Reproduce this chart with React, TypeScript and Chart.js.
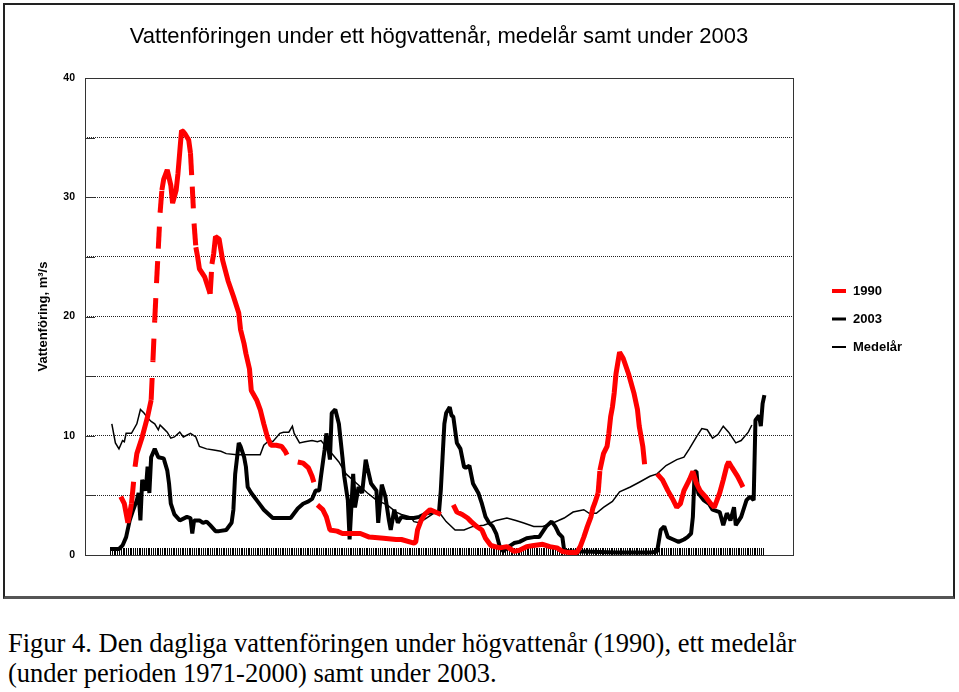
import React, { useEffect, useRef } from 'react';
import { Chart, registerables } from 'chart.js';

Chart.register(...registerables);

// ---------- data (day of the year, flow in m³/s) ----------
const SERIES_LABELS = ['1990', '2003', 'Medelår'];

const DAYS_1990 = [7, 9, 10, 11, 13, 15, 16, 19, 22, 24, 25, 26, 27, 28, 29, 30, 31, 33, 35, 36, 38, 39, 40, 41, 42, 43, 45, 46, 47, 48, 49, 50, 51, 54, 57, 58, 59, 60, 62, 64, 67, 70, 73, 74, 76, 77, 79, 80, 83, 85, 87, 89, 91, 94, 97, 99, 100, 103, 106, 109, 112, 114, 115, 116, 117, 120, 122, 124, 128, 131, 135, 141, 146, 154, 161, 164, 171, 172, 173, 175, 177, 180, 183, 186, 189, 193, 195, 198, 201, 203, 206, 209, 211, 214, 219, 223, 227, 230, 234, 238, 243, 247, 251, 254, 258, 262, 264, 266, 268, 270, 271, 272, 274, 275, 277, 279, 280, 281, 282, 283, 284, 286, 288, 291, 294, 296, 297, 299, 300, 302, 307, 310, 313, 316, 318, 320, 322, 325, 327, 329, 331, 334, 337, 339, 342, 344, 346, 347, 349, 352, 354, 355];
const FLOW_1990 = [4.9, 4.3, 3.5, 2.7, 4.3, 7.4, 8.5, 9.9, 11.6, 13.0, 16.3, 19.7, 22.8, 25.7, 28.7, 30.6, 31.5, 32.3, 31.0, 29.5, 30.6, 32.0, 33.8, 35.6, 35.5, 35.3, 34.8, 33.7, 30.9, 27.8, 25.8, 25.0, 24.0, 23.3, 21.9, 24.4, 25.3, 26.7, 26.5, 24.7, 23.0, 21.7, 20.3, 18.9, 17.7, 16.9, 15.6, 13.8, 13.0, 12.2, 11.0, 9.9, 9.2, 9.2, 9.1, 8.7, 8.4, null, 7.8, 7.7, 7.3, 6.6, 6.1, null, 4.2, 3.8, 3.2, 2.1, 2.0, 1.8, 1.8, 1.8, 1.5, 1.4, 1.3, 1.3, 1.0, 1.1, 2.1, 2.9, 3.4, 3.8, 3.6, 3.4, null, 4.2, 3.6, 3.4, 3.1, 2.8, 2.4, 2.1, 1.4, 0.8, 0.6, 0.7, 0.3, 0.4, 0.7, 0.8, 0.9, 0.7, 0.6, 0.3, 0.2, 0.2, 0.7, 1.5, 2.4, 3.2, 3.9, 4.3, 5.2, 7.1, 8.5, 9.1, 10.2, 11.6, 12.4, 13.6, 15.2, 17.0, 16.5, 15.2, 13.6, 12.2, 10.8, 9.1, 7.6, null, 6.8, 6.3, 5.4, 4.6, 4.0, 4.3, 5.4, 6.3, 7.0, 6.0, 5.4, 4.9, 4.3, 4.0, 5.2, 6.3, 7.5, 7.8, 7.3, 6.6, 6.0, 5.7];

const DAYS_2003 = [1, 6, 8, 10, 12, 14, 16, 17, 18, 19, 21, 22, 23, 24, 26, 28, 31, 33, 34, 35, 37, 40, 44, 46, 47, 48, 51, 53, 55, 57, 60, 62, 66, 69, 70, 71, 73, 74, 76, 77, 78, 80, 83, 85, 87, 92, 102, 106, 109, 112, 114, 116, 118, 119, 121, 122, 124, 125, 127, 129, 131, 132, 134, 135, 137, 138, 140, 142, 144, 145, 147, 150, 151, 153, 155, 157, 158, 160, 162, 164, 167, 171, 174, 178, 182, 185, 186, 187, 188, 189, 191, 192, 193, 195, 197, 199, 200, 202, 204, 207, 209, 211, 213, 215, 217, 219, 221, 223, 227, 230, 234, 238, 241, 245, 248, 250, 251, 252, 254, 255, 258, 266, 284, 303, 307, 309, 311, 313, 316, 319, 322, 324, 326, 327, 328, 329, 330, 333, 336, 338, 342, 344, 346, 348, 350, 351, 354, 357, 359, 361, 362, 364, 365, 366, 367];
const FLOW_2003 = [0.5, 0.5, 0.8, 1.5, 2.9, 3.8, 4.6, 5.2, 2.9, 6.3, 5.4, 7.4, 5.2, 8.2, 8.9, 8.2, 8.1, 7.1, 6.0, 4.3, 3.4, 2.9, 3.2, 3.1, 1.8, 2.9, 2.9, 2.7, 2.8, 2.5, 2.0, 2.0, 2.1, 2.7, 3.8, 6.8, 9.4, 9.1, 8.2, 7.4, 5.7, 5.2, 4.6, 4.2, 3.8, 3.1, 3.1, 3.9, 4.3, 4.5, 4.7, 5.4, 5.4, 6.6, 8.8, 10.2, 8.0, 11.9, 12.2, 11.0, 8.2, 6.6, 4.6, 1.3, 6.8, 4.0, 5.7, 5.2, 8.0, 7.3, 6.0, 5.4, 2.7, 5.9, 4.9, 2.9, 2.1, 3.8, 2.7, 3.2, 3.1, 3.1, 3.2, 3.5, 3.6, 3.6, 5.4, 8.2, 11.0, 11.9, 12.4, 11.7, 11.6, 9.4, 8.9, 7.4, 7.3, 7.5, 6.0, 5.2, 4.3, 3.2, 2.7, 2.4, 1.8, 0.7, 0.3, 0.6, 1.0, 1.1, 1.4, 1.5, 1.5, 2.4, 2.8, 2.4, 2.1, 1.8, 1.5, 0.4, 0.3, 0.3, 0.2, 0.2, 0.3, 2.1, 2.4, 1.5, 1.3, 1.1, 1.3, 1.5, 1.8, 3.2, 7.0, 7.0, 5.2, 4.6, 4.3, 3.8, 3.6, 2.5, 3.5, 2.9, 4.0, 2.5, 3.2, 4.6, 4.9, 4.6, 11.3, 11.7, 10.8, 12.7, 13.4];

const DAYS_MEDEL = [2, 4, 6, 8, 9, 10, 13, 16, 18, 20, 22, 24, 26, 28, 29, 31, 33, 35, 37, 40, 42, 46, 49, 51, 55, 59, 63, 66, 72, 77, 85, 87, 90, 92, 96, 98, 101, 103, 104, 107, 110, 114, 117, 119, 124, 129, 133, 139, 145, 150, 156, 161, 164, 169, 171, 174, 178, 182, 186, 189, 194, 199, 204, 210, 214, 217, 223, 228, 232, 238, 243, 249, 255, 260, 266, 269, 273, 277, 282, 286, 292, 297, 303, 307, 312, 318, 322, 325, 329, 332, 335, 338, 341, 344, 347, 351, 354, 358, 360];
const FLOW_MEDEL = [11.0, 9.4, 8.9, 9.6, 9.5, 10.2, 10.2, 11.0, 12.2, 11.9, 11.5, 11.2, 11.0, 10.5, 10.9, 10.6, 10.3, 9.8, 9.9, 10.3, 9.9, 10.2, 9.9, 9.1, 8.9, 8.8, 8.7, 8.5, 8.4, 8.4, 8.4, 9.2, 9.6, 9.5, 10.2, 10.3, 10.3, 10.8, 10.2, 9.4, 9.5, 9.6, 9.5, 9.6, 8.7, 7.8, 6.8, 6.0, 5.2, 4.6, 4.2, 3.6, 3.4, 3.2, 2.8, 2.7, 3.1, 3.5, 3.4, 2.8, 2.1, 2.1, 2.4, 2.5, 2.7, 2.9, 3.1, 2.9, 2.7, 2.4, 2.4, 2.7, 3.1, 3.6, 3.8, 3.5, 3.5, 4.0, 4.5, 5.3, 5.7, 6.1, 6.6, 6.8, 7.5, 8.0, 8.2, 8.9, 9.9, 10.6, 10.5, 9.8, 10.1, 10.8, 10.3, 9.4, 9.6, 10.3, 10.9];

// axis / text content
const X_MIN = -13;
const X_MAX = 383;
const FIRST_DAY = 1;
const LAST_DAY = 366;
const Y_MIN = 0;
const Y_MAX = 40;
const Y_STEP = 5;
const Y_LABEL_EVERY = 10;
const TITLE = 'Vattenföringen under ett högvattenår, medelår samt under 2003';
const Y_TITLE = 'Vattenföring, m³/s';
const CAPTION_LINES = [
  'Figur 4. Den dagliga vattenföringen under högvattenår (1990), ett medelår',
  '(under perioden 1971-2000) samt under 2003.',
];

const SANS = 'Arial, "Liberation Sans", sans-serif';

function toPoints(days: number[], vals: (number | null)[]) {
  return days.map((d, i) => ({ x: d, y: vals[i] }));
}

const DASH_LEN = 22;
function segLen(c: any) {
  return Math.hypot(c.p1.x - c.p0.x, c.p1.y - c.p0.y);
}

const framePlugin = {
  id: 'frameAndTicks',
  beforeDatasetsDraw(chart: any) {
    const { ctx, chartArea: a, scales } = chart;
    ctx.save();
    // plot frame
    ctx.strokeStyle = '#333';
    ctx.lineWidth = 1;
    ctx.strokeRect(Math.round(a.left) + 0.5, Math.round(a.top) + 0.5, Math.round(a.right - a.left), Math.round(a.bottom - a.top));
    // inward y ticks
    ctx.beginPath();
    for (const t of scales.y.ticks) {
      const y = Math.round(scales.y.getPixelForValue(t.value)) + 0.5;
      ctx.moveTo(a.left, y);
      ctx.lineTo(a.left + 10, y);
    }
    ctx.stroke();
    // daily tick marks along the bottom
    ctx.strokeStyle = '#000';
    ctx.beginPath();
    for (let d = FIRST_DAY; d <= LAST_DAY; d++) {
      const x = Math.round(scales.x.getPixelForValue(d)) + 0.5;
      ctx.moveTo(x, a.bottom - 7);
      ctx.lineTo(x, a.bottom);
    }
    ctx.stroke();
    ctx.restore();
  },
};

const legendPlugin = {
  id: 'sideLegend',
  afterDraw(chart: any) {
    const { ctx, chartArea: a } = chart;
    const x0 = a.right + 39;
    const cy = (a.top + a.bottom) / 2 + 2.5;
    ctx.save();
    chart.data.datasets.forEach((ds: any, i: number) => {
      const y = cy + (i - 1) * 28;
      ctx.strokeStyle = ds.borderColor;
      ctx.lineWidth = Math.max(2, ds.borderWidth - 1);
      ctx.setLineDash([]);
      ctx.beginPath();
      ctx.moveTo(x0, y);
      ctx.lineTo(x0 + 14, y);
      ctx.stroke();
      ctx.fillStyle = '#000';
      ctx.font = `bold 13px ${SANS}`;
      ctx.textBaseline = 'middle';
      ctx.textAlign = 'left';
      ctx.fillText(ds.label, x0 + 21, y);
    });
    ctx.restore();
  },
};

function FlowChart() {
  const ref = useRef<HTMLCanvasElement | null>(null);
  useEffect(() => {
    if (!ref.current) return;
    const chart = new Chart(ref.current, {
      type: 'line',
      data: {
        datasets: [
          {
            label: SERIES_LABELS[0],
            data: toPoints(DAYS_1990, FLOW_1990),
            borderColor: '#ff0000',
            borderWidth: 5,
            borderJoinStyle: 'bevel',
            segment: {
              borderDash: (c: any) => (segLen(c) > DASH_LEN ? [DASH_LEN, 16] : undefined),
              borderDashOffset: (c: any) => (segLen(c) > DASH_LEN ? c.p0DataIndex * 0.0001 : undefined),
            },
          },
          {
            label: SERIES_LABELS[1],
            data: toPoints(DAYS_2003, FLOW_2003),
            borderColor: '#000000',
            borderWidth: 4,
            borderJoinStyle: 'bevel',
          },
          {
            label: SERIES_LABELS[2],
            data: toPoints(DAYS_MEDEL, FLOW_MEDEL),
            borderColor: '#000000',
            borderWidth: 1.5,
          },
        ],
      } as any,
      options: {
        animation: false,
        responsive: false,
        maintainAspectRatio: false,
        spanGaps: false,
        elements: { point: { radius: 0, hoverRadius: 0 }, line: { tension: 0 } },
        layout: { padding: { top: 10, left: 24, right: 160, bottom: 41 } },
        scales: {
          x: { type: 'linear', min: X_MIN, max: X_MAX, display: false },
          y: {
            min: Y_MIN,
            max: Y_MAX,
            afterFit: (s: any) => {
              s.width = 56;
            },
            ticks: {
              stepSize: Y_STEP,
              padding: 10,
              color: '#000',
              font: { family: SANS, size: 10.5, weight: 'bold' },
              callback: (v: any) => (Number(v) % Y_LABEL_EVERY === 0 ? String(v) : ''),
            },
            grid: { color: '#222', lineWidth: 1, drawTicks: false },
            border: { display: false, dash: [1, 1] },
            title: {
              display: true,
              text: Y_TITLE,
              color: '#000',
              font: { family: SANS, size: 13, weight: 'bold' },
              padding: { top: 6.2, bottom: 0 },
            },
          },
        },
        plugins: {
          legend: { display: false },
          tooltip: { enabled: false },
          title: {
            display: true,
            text: TITLE,
            fullSize: false,
            color: '#000',
            font: { family: SANS, size: 22, weight: 'normal' },
            padding: { top: 9, bottom: 27.6 },
          },
        },
      } as any,
      plugins: [framePlugin, legendPlugin],
    });
    return () => chart.destroy();
  }, []);
  return <canvas ref={ref} width={948} height={591} style={{ display: 'block', width: 948, height: 591 }} />;
}

export default function App() {
  return (
    <div style={{ position: 'absolute', left: 0, top: 0, width: 959, height: 692, background: '#fff', overflow: 'hidden' }}>
      <div
        style={{
          position: 'absolute',
          left: 3,
          top: 3,
          width: 952,
          height: 596,
          boxSizing: 'border-box',
          border: '2px solid #222',
          borderBottom: '3px solid #555',
        }}
      >
        <div style={{ position: 'absolute', left: 0, top: 0 }}>
          <FlowChart />
        </div>
      </div>
      <div
        style={{
          position: 'absolute',
          left: 8,
          top: 628,
          fontFamily: '"Times New Roman", "Liberation Serif", serif',
          fontSize: 26.5,
          lineHeight: '30px',
          color: '#000',
          whiteSpace: 'nowrap',
        }}
      >
        {CAPTION_LINES[0]}
        <br />
        {CAPTION_LINES[1]}
      </div>
    </div>
  );
}
